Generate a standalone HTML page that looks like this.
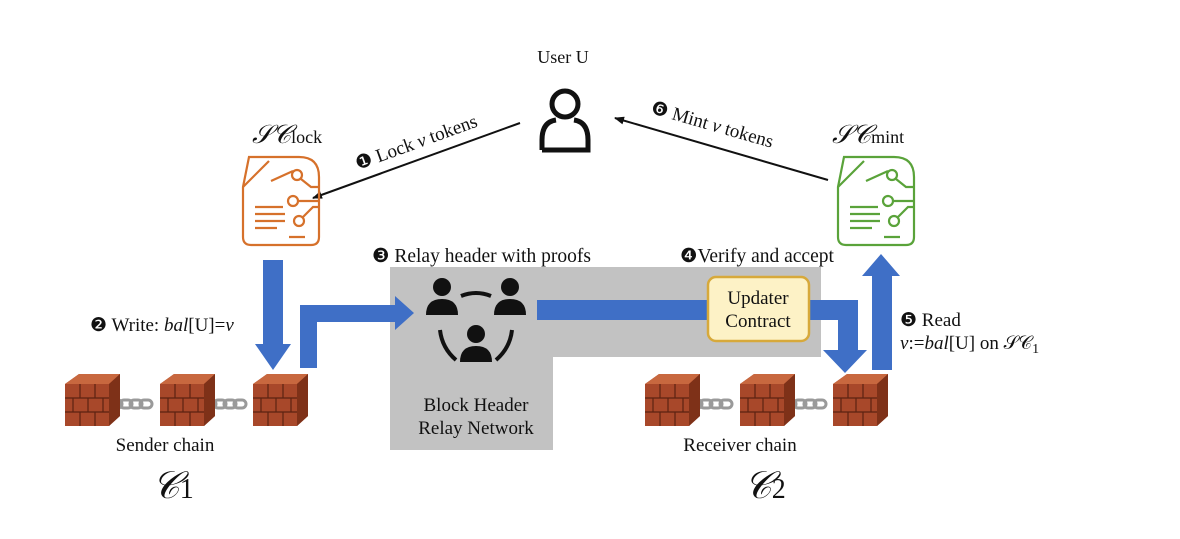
<!DOCTYPE html>
<html><head><style>
body{margin:0;background:#fff;}
svg text{font-family:"Liberation Serif",serif;fill:#111;}
</style></head><body>
<svg width="1180" height="534" viewBox="0 0 1180 534" xmlns="http://www.w3.org/2000/svg">
<defs>
<g id="brick">
 <polygon points="0,10 14,0 55,0 55,42 44,52 0,52" fill="#a8482a"/>
 <polygon points="0,10 14,0 55,0 44,10" fill="#c8683f"/>
 <polygon points="44,10 55,0 55,42 44,52" fill="#7e3118"/>
 <g stroke="#5c2312" stroke-width="1.2">
  <line x1="0" y1="24" x2="44" y2="24"/><line x1="0" y1="38" x2="44" y2="38"/>
  <line x1="15" y1="10" x2="15" y2="24"/><line x1="30" y1="10" x2="30" y2="24"/>
  <line x1="8" y1="24" x2="8" y2="38"/><line x1="23" y1="24" x2="23" y2="38"/><line x1="38" y1="24" x2="38" y2="38"/>
  <line x1="15" y1="38" x2="15" y2="52"/><line x1="30" y1="38" x2="30" y2="52"/>
 </g>
</g>
<g id="chain" fill="none" stroke="#9a9a9a" stroke-width="3">
 <rect x="0" y="-4" width="12" height="8" rx="4"/><rect x="10" y="-4" width="12" height="8" rx="4"/>
 <rect x="20" y="-4" width="12" height="8" rx="4"/><rect x="30" y="-4" width="12" height="8" rx="4"/>
</g>
<g id="doc" fill="none" stroke-width="2.2">
 <path d="M8,0 H58 Q78,0 78,20 V80 Q78,88 70,88 H10 Q2,88 2,80 V30 Z"/>
 <path d="M2,30 L28,4"/>
 <circle cx="56" cy="18" r="5"/><circle cx="52" cy="44" r="5"/><circle cx="58" cy="64" r="5"/>
 <path d="M60,22 L70,30 H78 M57,44 H78 M62,60 L72,50 H78 M30,24 L52,14"/>
 <path d="M14,50 H42 M14,57 H44 M14,64 H44 M14,71 H36 M48,80 H64"/>
</g>
<g id="person" fill="#111"><circle cx="0" cy="0" r="9"/><path d="M-16,28 Q-16,12 0,12 Q16,12 16,28 Z"/></g>
<marker id="ah" markerWidth="10" markerHeight="8" refX="9" refY="4" orient="auto" markerUnits="userSpaceOnUse"><path d="M0,0 L10,4 L0,8 Z" fill="#111"/></marker>
</defs>

<path d="M390,267 H821 V357 H553 V450 H390 Z" fill="#c2c2c2"/>

<g fill="#3f6fc6">
 <rect x="263" y="260" width="20" height="86"/>
 <polygon points="255,344 291,344 273,370"/>
 <path d="M300,368 V305 H395 V296 L414,313 L395,330 V322 H317 V368 Z"/>
 <path d="M537,300 H858 V350 H867 L845,373 L823,350 H838 V320 H537 Z"/>
 <path d="M872,370 V276 H862 L881,254 L900,276 H892 V370 Z"/>
</g>

<rect x="708" y="277" width="101" height="64" rx="8" fill="#fdf2c6" stroke="#d7a93b" stroke-width="2.5"/>
<text x="758" y="304" font-size="19" text-anchor="middle">Updater</text>
<text x="758" y="327" font-size="19" text-anchor="middle">Contract</text>

<g transform="translate(442,287)"><use href="#person"/></g>
<g transform="translate(510,287)"><use href="#person"/></g>
<g transform="translate(476,334)"><use href="#person"/></g>
<g fill="none" stroke="#111" stroke-width="4">
 <path d="M461,296 Q476,290 491,296"/>
 <path d="M440,330 Q442,348 456,360"/>
 <path d="M512,330 Q510,348 496,360"/>
</g>
<text x="476" y="411" font-size="19" text-anchor="middle">Block Header</text>
<text x="476" y="434" font-size="19" text-anchor="middle">Relay Network</text>

<text x="563" y="63" font-size="18" text-anchor="middle">User U</text>
<g fill="none" stroke="#111" stroke-width="5">
 <circle cx="565" cy="104" r="13"/>
 <path d="M542,150 V140 Q542,122 556,120 M574,120 Q588,122 588,140 V150 H542"/>
</g>

<line x1="520" y1="123" x2="313" y2="198" stroke="#111" stroke-width="2" marker-end="url(#ah)"/>
<line x1="828" y1="180" x2="615" y2="118" stroke="#111" stroke-width="2" marker-end="url(#ah)"/>
<text transform="translate(358,170) rotate(-20)" font-size="19">❶ Lock <tspan font-style="italic">v</tspan> tokens</text>
<text transform="translate(650,113) rotate(16)" font-size="19">❻ Mint <tspan font-style="italic">v</tspan> tokens</text>

<g transform="translate(241,157)" stroke="#d6712b"><use href="#doc"/></g>
<g transform="translate(836,157)" stroke="#5aa33a"><use href="#doc"/></g>
<text x="252" y="143" font-size="26" font-style="italic">𝒮𝒞<tspan font-size="18" font-style="normal">lock</tspan></text>
<text x="832" y="143" font-size="26" font-style="italic">𝒮𝒞<tspan font-size="18" font-style="normal">mint</tspan></text>

<text x="372" y="262" font-size="19.5">❸ Relay header with proofs</text>
<text x="680" y="262" font-size="19.5">❹Verify and accept</text>
<text x="90" y="331" font-size="19">❷ Write: <tspan font-style="italic">bal</tspan>[U]=<tspan font-style="italic">v</tspan></text>
<text x="900" y="326" font-size="19">❺ Read</text>
<text x="900" y="349" font-size="19"><tspan font-style="italic">v</tspan>:=<tspan font-style="italic">bal</tspan>[U] on 𝒮𝒞<tspan font-size="14" dy="4">1</tspan></text>

<use href="#chain" x="110" y="404"/><use href="#chain" x="204" y="404"/>
<use href="#brick" x="65" y="374"/><use href="#brick" x="160" y="374"/><use href="#brick" x="253" y="374"/>
<use href="#chain" x="690" y="404"/><use href="#chain" x="784" y="404"/>
<use href="#brick" x="645" y="374"/><use href="#brick" x="740" y="374"/><use href="#brick" x="833" y="374"/>

<text x="165" y="451" font-size="19" text-anchor="middle">Sender chain</text>
<text x="740" y="451" font-size="19" text-anchor="middle">Receiver chain</text>
<text x="152" y="498" font-size="38" font-style="italic">𝒞<tspan font-size="28" font-style="normal">1</tspan></text>
<text x="744" y="498" font-size="38" font-style="italic">𝒞<tspan font-size="28" font-style="normal">2</tspan></text>
</svg>
</body></html>
